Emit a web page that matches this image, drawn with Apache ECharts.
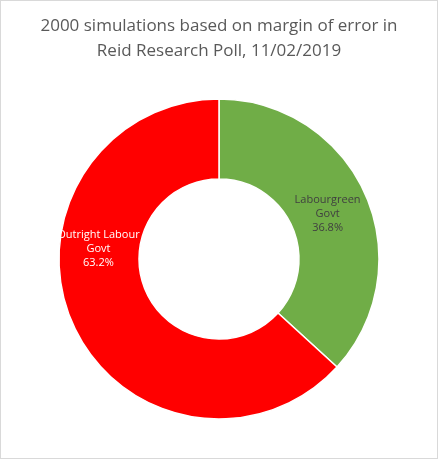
<!DOCTYPE html>
<html><head><meta charset="utf-8">
<script src="https://cdn.jsdelivr.net/npm/echarts@6/dist/echarts.min.js"></script>
<style>html,body{margin:0;padding:0;background:#fff}#c{width:438px;height:459px;border:1px solid #d9d9d9;box-sizing:border-box}</style>
</head><body><div id="c"></div>
<script>
const categories = ["Labourgreen Govt", "Outright Labour Govt"];
const labelLines = ["Labourgreen\nGovt", "Outright Labour\nGovt"];
const values = [36.8, 63.2];
const colors = ["#70AD47", "#FF0000"];
const chart = echarts.init(document.getElementById('c'));
chart.setOption({
  title: {
    text: "2000 simulations based on margin of error in\nReid Research Poll, 11/02/2019",
    left: 'center', top: 8,
    textStyle: {fontFamily: 'Open Sans', fontSize: 17, fontWeight: 'normal', color: '#595959', lineHeight: 25}
  },
  series: [{
    type: 'pie',
    center: [218, 258],
    radius: [80, 160],
    startAngle: 90,
    clockwise: true,
    itemStyle: {borderColor: '#fff', borderWidth: 1.5},
    label: {position: 'inside', fontFamily: 'Open Sans', fontSize: 11, lineHeight: 14, align: 'center'},
    labelLine: {show: false},
    data: categories.map((c, i) => ({
      name: c, value: values[i],
      itemStyle: {color: colors[i]},
      label: {
        formatter: labelLines[i] + "\n" + values[i].toFixed(1) + "%",
        color: i === 0 ? '#404040' : '#ffffff',
        offset: i === 0 ? [-4, 4] : [-8, -60]
      }
    }))
  }]
});
</script></body></html>
